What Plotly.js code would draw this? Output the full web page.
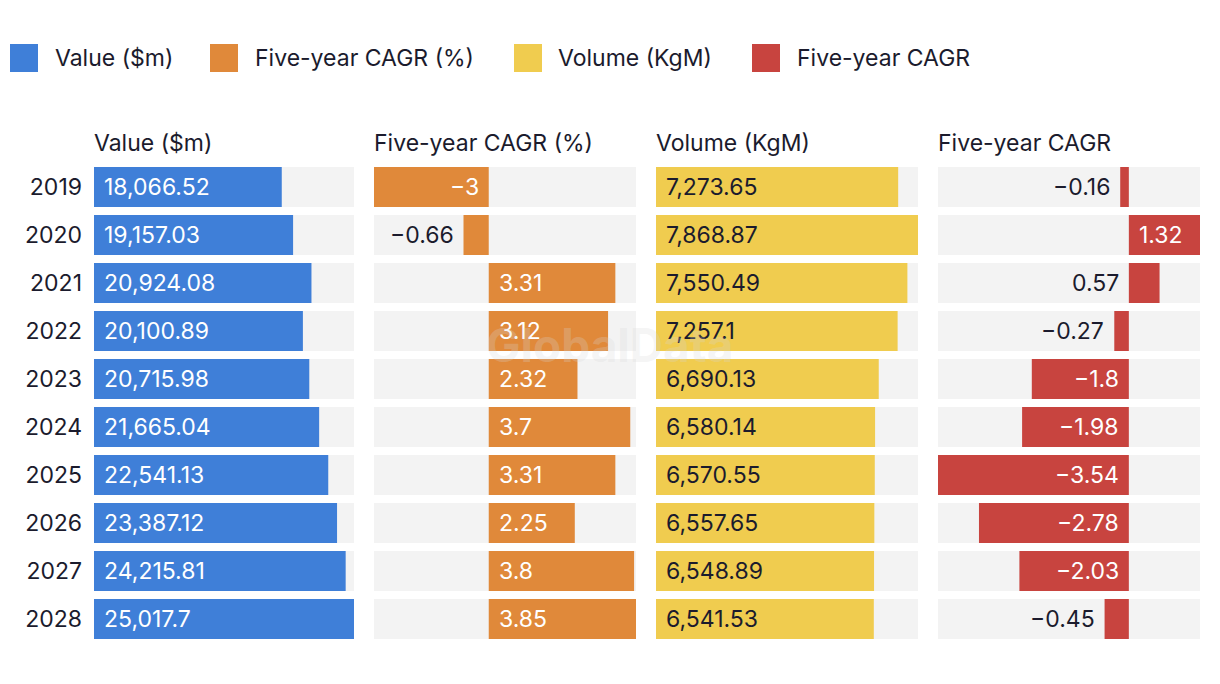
<!DOCTYPE html>
<html>
<head>
<meta charset="utf-8">
<script src="https://cdn.plot.ly/plotly-3.0.1.min.js"></script>
<style>html,body{margin:0;padding:0;background:#fff;}#chart{width:1220px;height:684px;}</style>
</head>
<body>
<div id="chart"></div>
<script>
const years = ["2019","2020","2021","2022","2023","2024","2025","2026","2027","2028"];
const valueMillions = [18066.52,19157.03,20924.08,20100.89,20715.98,21665.04,22541.13,23387.12,24215.81,25017.7];
const valueCagr = [-3,-0.66,3.31,3.12,2.32,3.7,3.31,2.25,3.8,3.85];
const volumeKgM = [7273.65,7868.87,7550.49,7257.1,6690.13,6580.14,6570.55,6557.65,6548.89,6541.53];
const volumeCagr = [-0.16,1.32,0.57,-0.27,-1.8,-1.98,-3.54,-2.78,-2.03,-0.45];
const seriesNames = ["Value ($m)","Five-year CAGR (%)","Volume (KgM)","Five-year CAGR"];

const W = 1220, H = 684;
const FONT = "Inter, 'Open Sans', sans-serif";
const FS = 23;
const DARK = "#1b1b2d";
const colors = ["#3f7fd8","#e0893a","#f0cc4f","#c8443f"];
const GREY = "#f3f3f3";
const panels = [
  {data: valueMillions, px:[94,354], insideColor:"#ffffff"},
  {data: valueCagr, px:[374,636], insideColor:"#ffffff"},
  {data: volumeKgM, px:[656,918], insideColor:DARK},
  {data: volumeCagr, px:[938,1200], insideColor:"#ffffff"}
];
const yTop = 163, yBot = 643;

function fmt(v){
  const s = Math.abs(v).toLocaleString('en-US',{maximumFractionDigits:2});
  return (v < 0 ? "\u2212" : "") + s;
}

const traces = [];
const annotations = [];
const shapes = [];
const layout = {
  width: W, height: H,
  margin: {l:0,r:0,t:0,b:0},
  paper_bgcolor: "#ffffff", plot_bgcolor: "rgba(0,0,0,0)",
  barmode: "overlay", bargap: 8/48,
  showlegend: false,
  font: {family: FONT, color: DARK, size: FS},
  yaxis: {
    type: "category", autorange: false,
    range: [years.length - 0.5, -0.5],
    domain: [1 - yBot/H, 1 - yTop/H],
    anchor: "x",
    showgrid: false, zeroline: false, showline: false,
    ticks: "", ticklabelstandoff: 11,
    tickfont: {family: FONT, size: FS, color: DARK},
    fixedrange: true
  }
};

panels.forEach((p, i) => {
  const ax = i === 0 ? "x" : "x" + (i + 1);
  const axKey = i === 0 ? "xaxis" : "xaxis" + (i + 1);
  const mn = Math.min(0, ...p.data), mx = Math.max(0, ...p.data);
  layout[axKey] = {
    domain: [p.px[0]/W, p.px[1]/W],
    range: [mn, mx], autorange: false,
    anchor: "y",
    showgrid: false, zeroline: false, showline: false, showticklabels: false, ticks: "",
    fixedrange: true
  };
  // grey background bars
  traces.push({
    type: "bar", orientation: "h", xaxis: ax, yaxis: "y",
    y: years, x: years.map(() => mx - mn), base: years.map(() => mn),
    marker: {color: GREY, line: {width: 0}}, hoverinfo: "skip"
  });
  traces.push({
    type: "bar", orientation: "h", xaxis: ax, yaxis: "y",
    y: years, x: p.data, name: seriesNames[i],
    marker: {color: colors[i], line: {width: 0}}
  });
  const pxPerUnit = (p.px[1] - p.px[0]) / (mx - mn);
  p.data.forEach((v, j) => {
    const txt = fmt(v);
    const barPx = Math.abs(v) * pxPerUnit;
    const need = txt.length * 12 + 20;
    const fits = barPx >= need;
    let a = {xref: ax, yref: "y", y: j, text: txt, showarrow: false,
             font: {family: FONT, size: FS, color: fits ? p.insideColor : DARK}, yanchor: "middle"};
    if (v >= 0) {
      if (fits) { a.x = 0; a.xanchor = "left"; a.xshift = 8; }
      else { a.x = 0; a.xanchor = "right"; a.xshift = -8; }
    } else {
      if (fits) { a.x = 0; a.xanchor = "right"; a.xshift = -8; }
      else { a.x = v; a.xanchor = "right"; a.xshift = -8; }
    }
    annotations.push(a);
  });
  // panel title
  annotations.push({
    xref: "paper", yref: "paper", x: p.px[0]/W, y: 1 - 143/H,
    xanchor: "left", yanchor: "middle", showarrow: false, xshift: -2,
    text: seriesNames[i], font: {family: FONT, size: FS, color: DARK}
  });
});

// legend
const legSq = [10, 210, 514, 752];
const legTx = [55, 255, 558, 797];
seriesNames.forEach((n, i) => {
  shapes.push({type: "rect", xref: "paper", yref: "paper",
    x0: legSq[i]/W, x1: (legSq[i]+28)/W, y0: 1 - 72/H, y1: 1 - 44/H,
    fillcolor: colors[i], line: {width: 0}});
  annotations.push({xref: "paper", yref: "paper", x: legTx[i]/W, y: 1 - 58/H,
    xanchor: "left", yanchor: "middle", showarrow: false, text: n, xshift: -2,
    font: {family: FONT, size: FS, color: DARK}});
});

// watermark
annotations.push({xref: "paper", yref: "paper", x: 610/W, y: 1 - 345/H,
  xanchor: "center", yanchor: "middle", showarrow: false, text: "<b>GlobalData</b>",
  font: {family: FONT, size: 46, color: "rgba(215,215,215,0.25)"}});

layout.annotations = annotations;
layout.shapes = shapes;

Plotly.newPlot("chart", traces, layout, {displayModeBar: false, staticPlot: true});
</script>
</body>
</html>
